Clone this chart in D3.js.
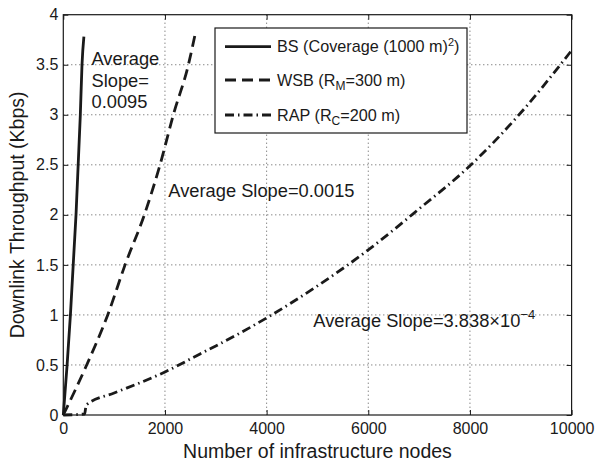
<!DOCTYPE html>
<html>
<head>
<meta charset="utf-8">
<script src="https://cdn.jsdelivr.net/npm/d3@7"></script>
<style>
  body { margin: 0; background: #fff; }
  svg { font-family: "Liberation Sans", Arial, Helvetica, sans-serif; }
</style>
</head>
<body>
<svg id="chart" width="596" height="464"></svg>
<script>
// values: [nodes, throughput Kbps]
const bsPoints = [[0, 0], [75, 0.5], [140, 1], [250, 2], [335, 3], [368, 3.5], [405, 3.78]]
const wsbPoints = [[0, 0], [460, 0.5], [874, 1], [1215, 1.5], [1594, 2], [1903, 2.5], [2165, 3], [2461, 3.5], [2592, 3.8]]
const rapPoints = [[0, 0], [420, 0.01], [450, 0.1], [1000, 0.22], [1500, 0.32], [2000, 0.43], [2690, 0.61], [3000, 0.69],
  [4000, 0.97], [5000, 1.29], [6000, 1.65], [7000, 2.06], [8000, 2.49], [9000, 3.02], [9980, 3.63]]
const xTicks = [0, 2000, 4000, 6000, 8000, 10000]
const yTicks = [0, 0.5, 1, 1.5, 2, 2.5, 3, 3.5, 4]

const margin = { top: 14.7, right: 24.4, bottom: 49, left: 63.3 }
const width = 596 - margin.left - margin.right
const height = 464 - margin.top - margin.bottom
const ink = '#1a1a1a'

const svg = d3.select('#chart')
const g = svg.append('g').attr('transform', `translate(${margin.left},${margin.top})`)

const x = d3.scaleLinear().domain([0, 10000]).range([0, width])
const y = d3.scaleLinear().domain([0, 4]).range([height, 0])

// dotted grid
g.append('g').selectAll('line').data(xTicks.slice(1, -1)).enter().append('line')
  .attr('x1', d => x(d)).attr('x2', d => x(d)).attr('y1', 0).attr('y2', height)
g.append('g').selectAll('line').data(yTicks.slice(1, -1)).enter().append('line')
  .attr('y1', d => y(d)).attr('y2', d => y(d)).attr('x1', 0).attr('x2', width)
g.selectAll('line').attr('stroke', '#555').attr('stroke-width', 1).attr('stroke-dasharray', '1,3')

// axes with inward ticks
const fmt = d => d3.format('')(d)
g.append('g').attr('transform', `translate(0,${height})`)
  .call(d3.axisBottom(x).tickValues(xTicks).tickFormat(fmt).tickSizeInner(-5).tickSizeOuter(0).tickPadding(8))
g.append('g')
  .call(d3.axisLeft(y).tickValues(yTicks).tickFormat(fmt).tickSizeInner(-5).tickSizeOuter(0).tickPadding(5))
g.append('g').call(d3.axisTop(x).tickValues(xTicks).tickFormat('').tickSizeInner(-5).tickSizeOuter(0))
g.append('g').attr('transform', `translate(${width},0)`)
  .call(d3.axisRight(y).tickValues(yTicks).tickFormat('').tickSizeInner(-5).tickSizeOuter(0))
g.selectAll('.domain').remove()
g.selectAll('.tick line').attr('stroke', ink)
g.selectAll('.tick text').attr('font-size', 16).attr('fill', ink).attr('font-family', null)

g.append('rect').attr('width', width).attr('height', height)
  .attr('fill', 'none').attr('stroke', ink).attr('stroke-width', 1.2)

// curves
const line = d3.line().x(d => x(d[0])).y(d => y(d[1])).curve(d3.curveMonotoneX)
const series = [
  { pts: bsPoints, dash: null },
  { pts: wsbPoints, dash: '11,6' },
  { pts: rapPoints, dash: '9,4,1.5,4' }
]
series.forEach(s => {
  g.append('path').datum(s.pts).attr('d', line)
    .attr('fill', 'none').attr('stroke', ink).attr('stroke-width', 2.8)
    .attr('stroke-dasharray', s.dash)
})

// legend
const leg = svg.append('g')
leg.append('rect').attr('x', 215).attr('y', 28).attr('width', 252).attr('height', 105)
  .attr('fill', '#fff').attr('stroke', ink).attr('stroke-width', 1.2)
const rows = [46.7, 80, 115]
series.forEach((s, i) => {
  leg.append('line').attr('x1', 225).attr('x2', 271).attr('y1', rows[i]).attr('y2', rows[i])
    .attr('stroke', ink).attr('stroke-width', 2.8).attr('stroke-dasharray', s.dash)
})
const legText = (i) => leg.append('text').attr('x', 277).attr('y', rows[i] + 5.5)
  .attr('font-size', 16.2).attr('fill', ink)
let t = legText(0)
t.append('tspan').text('BS (Coverage (1000 m)')
t.append('tspan').attr('font-size', 11).attr('dy', -6).text('2')
t.append('tspan').attr('dy', 6).text(')')
t = legText(1)
t.append('tspan').text('WSB (R')
t.append('tspan').attr('font-size', 12).attr('dy', 4).text('M')
t.append('tspan').attr('dy', -4).text('=300 m)')
t = legText(2)
t.append('tspan').text('RAP (R')
t.append('tspan').attr('font-size', 12).attr('dy', 4).text('C')
t.append('tspan').attr('dy', -4).text('=200 m)')

// annotations
const note = (xp, yp) => svg.append('text').attr('x', xp).attr('y', yp).attr('font-size', 18.3).attr('fill', ink)
note(91.5, 65).text('Average')
note(91.5, 86.7).text('Slope=')
note(91.5, 108.3).text('0.0095')
note(168.3, 196.7).text('Average Slope=0.0015')
t = note(313.3, 326.7)
t.append('tspan').text('Average Slope=3.838\u00d710')
t.append('tspan').attr('font-size', 13).attr('dy', -8).text('\u22124')

// axis titles
svg.append('text').attr('x', margin.left + width / 2).attr('y', 458)
  .attr('text-anchor', 'middle').attr('font-size', 19.5).attr('fill', ink)
  .text('Number of infrastructure nodes')
svg.append('text').attr('transform', `translate(24,${margin.top + height / 2}) rotate(-90)`)
  .attr('text-anchor', 'middle').attr('font-size', 19.5).attr('fill', ink)
  .text('Downlink Throughput (Kbps)')
</script>
</body>
</html>
